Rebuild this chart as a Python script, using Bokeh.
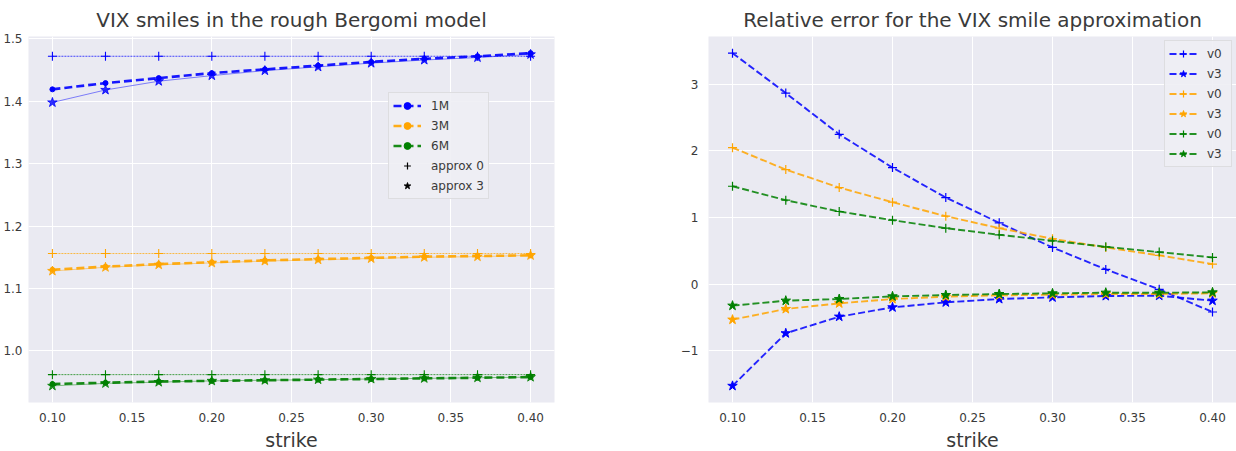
from bokeh.plotting import figure
from bokeh.models import ColumnDataSource, FixedTicker, Legend, LegendItem, Range1d
from bokeh.layouts import row
from bokeh.embed import file_html
from bokeh.resources import INLINE

# ---------------- data ----------------
strikes = [0.1, 0.1333, 0.1667, 0.2, 0.2333, 0.2667, 0.3, 0.3333, 0.3667, 0.4]

# left panel: VIX smiles
smile_1M = [1.419, 1.429, 1.437, 1.445, 1.451, 1.457, 1.463, 1.468, 1.472, 1.477]
approx0_1M = [1.472, 1.472, 1.472, 1.472, 1.472, 1.472, 1.472, 1.472, 1.472, 1.472]
approx3_1M = [1.398, 1.418, 1.432, 1.441, 1.449, 1.455, 1.461, 1.466, 1.470, 1.475]

smile_3M = [1.130, 1.135, 1.139, 1.142, 1.145, 1.147, 1.149, 1.151, 1.152, 1.153]
approx0_3M = [1.156, 1.156, 1.156, 1.156, 1.156, 1.156, 1.156, 1.156, 1.156, 1.156]
approx3_3M = [1.128, 1.134, 1.138, 1.141, 1.144, 1.146, 1.148, 1.150, 1.151, 1.153]

smile_6M = [0.947, 0.949, 0.951, 0.952, 0.953, 0.954, 0.955, 0.956, 0.957, 0.958]
approx0_6M = [0.962, 0.962, 0.962, 0.962, 0.962, 0.962, 0.962, 0.962, 0.962, 0.962]
approx3_6M = [0.944, 0.948, 0.950, 0.952, 0.953, 0.954, 0.955, 0.956, 0.957, 0.958]

maturities = ["1M", "3M", "6M"]
colors = ["blue", "orange", "green"]

# right panel: relative errors
err_v0_1M = [3.47, 2.87, 2.25, 1.75, 1.30, 0.92, 0.55, 0.22, -0.08, -0.42]
err_v3_1M = [-1.53, -0.74, -0.49, -0.35, -0.275, -0.225, -0.20, -0.18, -0.175, -0.25]
err_v0_3M = [2.05, 1.72, 1.45, 1.23, 1.02, 0.84, 0.68, 0.55, 0.43, 0.30]
err_v3_3M = [-0.535, -0.375, -0.29, -0.225, -0.19, -0.17, -0.16, -0.15, -0.15, -0.14]
err_v0_6M = [1.47, 1.26, 1.09, 0.96, 0.84, 0.74, 0.65, 0.56, 0.48, 0.40]
err_v3_6M = [-0.325, -0.25, -0.225, -0.185, -0.165, -0.15, -0.14, -0.13, -0.13, -0.125]

xticks = [0.10, 0.15, 0.20, 0.25, 0.30, 0.35, 0.40]
xtick_labels = ["0.10", "0.15", "0.20", "0.25", "0.30", "0.35", "0.40"]
yticks_left = [1.0, 1.1, 1.2, 1.3, 1.4, 1.5]
ytick_labels_left = ["1.0", "1.1", "1.2", "1.3", "1.4", "1.5"]
yticks_right = [-1, 0, 1, 2, 3]
ytick_labels_right = ["\u22121", "0", "1", "2", "3"]

FONT = "DejaVu Sans"
TXT = "#3a3a3a"
BG = "#EAEAF2"
NAN = float("nan")


def padded(values, frac=0.05):
    lo, hi = min(values), max(values)
    pad = (hi - lo) * frac
    return Range1d(lo - pad, hi + pad)


def style(p, yticks, ylabels, ystandoff):
    p.background_fill_color = BG
    p.border_fill_color = "white"
    p.outline_line_color = None
    p.title.text_font = FONT
    p.title.text_font_size = "20px"
    p.title.text_font_style = "normal"
    p.title.text_color = TXT
    p.title.align = "center"
    for ax in (p.xaxis[0], p.yaxis[0]):
        ax.axis_line_color = None
        ax.major_tick_line_color = None
        ax.minor_tick_line_color = None
        ax.major_tick_out = 0
        ax.major_tick_in = 0
        ax.minor_tick_out = 0
        ax.minor_tick_in = 0
        ax.major_label_text_font = FONT
        ax.major_label_text_font_size = "12px"
        ax.major_label_text_color = TXT
    p.xaxis.ticker = FixedTicker(ticks=xticks)
    p.xaxis.major_label_overrides = dict(zip(xticks, xtick_labels))
    p.xaxis.major_label_standoff = 10
    p.yaxis.ticker = FixedTicker(ticks=yticks)
    p.yaxis.major_label_overrides = dict(zip(yticks, ylabels))
    p.yaxis.major_label_standoff = ystandoff
    p.xaxis.axis_label = "strike"
    p.xaxis.axis_label_text_font = FONT
    p.xaxis.axis_label_text_font_size = "19px"
    p.xaxis.axis_label_text_font_style = "normal"
    p.xaxis.axis_label_text_color = TXT
    p.xaxis.axis_label_standoff = 4
    p.xgrid.grid_line_color = "white"
    p.ygrid.grid_line_color = "white"
    p.xgrid.grid_line_width = 1
    p.ygrid.grid_line_width = 1


def style_legend(leg):
    leg.label_text_font = FONT
    leg.label_text_font_size = "12px"
    leg.label_text_color = TXT
    leg.background_fill_color = "#EEEEF4"
    leg.background_fill_alpha = 0.9
    leg.border_line_color = "#CCCCCC"
    leg.border_line_width = 1
    leg.padding = 4
    leg.spacing = 3
    leg.glyph_height = 17
    leg.label_height = 17
    leg.glyph_width = 28
    leg.label_standoff = 10


# ---------------- left figure ----------------
left_all = smile_1M + approx0_1M + approx3_1M + smile_3M + approx0_3M + approx3_3M + smile_6M + approx0_6M + approx3_6M
p1 = figure(frame_width=526, frame_height=366,
            min_border_left=28, min_border_right=86, min_border_top=35, min_border_bottom=50,
            x_range=padded(strikes), y_range=padded(left_all),
            title="VIX smiles in the rough Bergomi model",
            output_backend="svg", toolbar_location=None)
style(p1, yticks_left, ytick_labels_left, 6)

left_series = [(smile_1M, approx0_1M, approx3_1M), (smile_3M, approx0_3M, approx3_3M), (smile_6M, approx0_6M, approx3_6M)]
legend_items = []
for (sm, a0, a3), col, mat in zip(left_series, colors, maturities):
    src = ColumnDataSource(dict(x=strikes, sm=sm, a0=a0, a3=a3))
    p1.line("x", "a0", source=src, line_color=col, line_width=0.9, line_dash="2 1", line_alpha=0.8)
    p1.scatter("x", "a0", source=src, marker="cross", size=9, line_color=col, line_width=1.1)
    p1.line("x", "a3", source=src, line_color=col, line_width=0.8, line_alpha=0.6)
    p1.scatter("x", "a3", source=src, marker="star", size=10, line_color=col, fill_color=col, fill_alpha=0.8, line_alpha=0.8)
    ln = p1.line("x", "sm", source=src, line_color=col, line_width=2.6, line_dash="8 4", line_alpha=0.9)
    dot = p1.scatter("x", "sm", source=src, marker="circle", size=5, line_color=col, fill_color=col)
    legend_items.append(LegendItem(label=mat, renderers=[ln, dot]))

# legend-only marker keys (no visible points)
key_src = ColumnDataSource(dict(x=[NAN], y=[NAN]))
leg_a0 = p1.scatter("x", "y", source=key_src, marker="cross", size=9, line_color="black", line_width=1.2)
leg_a3 = p1.scatter("x", "y", source=key_src, marker="star", size=10, line_color="black", fill_color="black")
legend_items.append(LegendItem(label="approx 0", renderers=[leg_a0]))
legend_items.append(LegendItem(label="approx 3", renderers=[leg_a3]))

leg1 = Legend(items=legend_items, location=(360, 203), margin=0)
style_legend(leg1)
p1.add_layout(leg1)

# ---------------- right figure ----------------
right_series = [(err_v0_1M, err_v3_1M), (err_v0_3M, err_v3_3M), (err_v0_6M, err_v3_6M)]
right_all = err_v0_1M + err_v3_1M + err_v0_3M + err_v3_3M + err_v0_6M + err_v3_6M
p2 = figure(frame_width=528, frame_height=366,
            min_border_left=68, min_border_right=0, min_border_top=35, min_border_bottom=50,
            x_range=padded(strikes), y_range=padded(right_all),
            title="Relative error for the VIX smile approximation",
            output_backend="svg", toolbar_location=None)
style(p2, yticks_right, ytick_labels_right, 10)

items2 = []
for (v0, v3), col in zip(right_series, colors):
    src = ColumnDataSource(dict(x=strikes, v0=v0, v3=v3))
    l0 = p2.line("x", "v0", source=src, line_color=col, line_width=1.9, line_dash="7 3", line_alpha=0.85)
    m0 = p2.scatter("x", "v0", source=src, marker="cross", size=9, line_color=col, line_width=1.2)
    l3 = p2.line("x", "v3", source=src, line_color=col, line_width=1.9, line_dash="7 3", line_alpha=0.85)
    m3 = p2.scatter("x", "v3", source=src, marker="star", size=10, line_color=col, fill_color=col)
    items2.append(LegendItem(label="v0", renderers=[l0, m0]))
    items2.append(LegendItem(label="v3", renderers=[l3, m3]))

leg2 = Legend(items=items2, location="top_right", margin=4)
style_legend(leg2)
p2.add_layout(leg2)

layout = row(p1, p2)
open("out.html", "w").write(file_html(layout, INLINE))
